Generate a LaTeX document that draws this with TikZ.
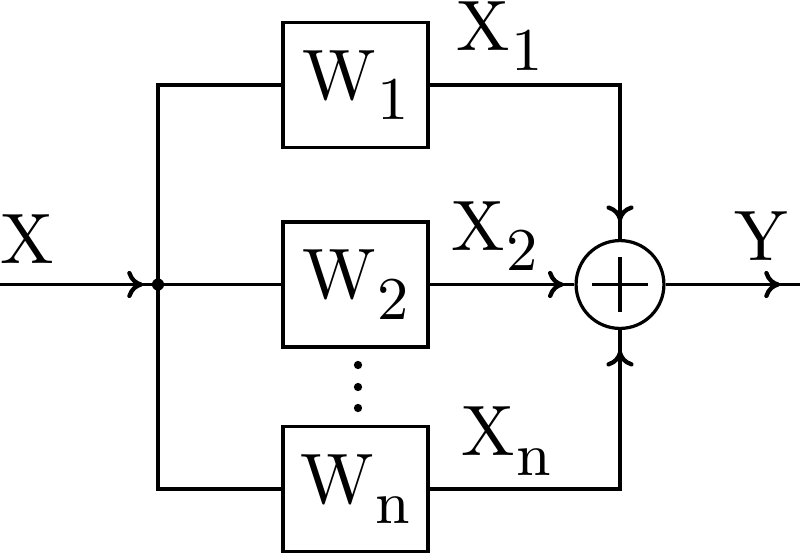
\documentclass[tikz,border=0pt]{standalone}
\usetikzlibrary{decorations.markings,arrows.meta}
\newcommand\mysub[1]{\kern0.2pt\raisebox{-2.9pt}{\fontsize{8.5}{10}\selectfont #1}}
\begin{document}
\begin{tikzpicture}[x=0.14pt,y=-0.14pt,line width=0.45pt,
  blk/.style={draw,rectangle,minimum width=20.3pt,minimum height=17.5pt,inner sep=0pt},
  sumnode/.style={draw,circle,minimum size=12.3pt,inner sep=0pt},
  lbl/.style={anchor=base west,inner sep=0pt},
  arrowat/.style={postaction={decorate},decoration={markings,mark=at position #1 with {\arrow{To[length=2.2pt,width=3.8pt,line width=0.6pt]}}}}]
\useasboundingbox (0,0) rectangle (800,554);
\node[blk] (w1) at (355.5,85) {W\mysub{1}};
\node[blk] (w2) at (355.5,284.5) {W\mysub{2}};
\node[blk] (wn) at (355.5,489) {W\mysub{n}};
\node[sumnode] (sum) at (620,284.5) {};
\coordinate (j) at (158,284.5);
\coordinate (inp) at (-5,284.5);
\coordinate (out) at (805,284.5);
\fill (j) circle (0.85pt);
% plus sign
\draw ([xshift=-3.9pt]sum.center) -- ([xshift=3.9pt]sum.center);
\draw ([yshift=-3.9pt]sum.center) -- ([yshift=3.9pt]sum.center);
% vertical dots
\fill (358,365) circle (0.58pt);
\fill (358,387) circle (0.58pt);
\fill (358,408) circle (0.58pt);
% connectors
\draw[arrowat=-2.1pt] (inp) -- (j);
\draw (j) -- (w2.west);
\draw (w1.west) -| (j) |- (wn.west);
\draw[arrowat=-2.5pt] (w1.east) -| (sum.north);
\draw[arrowat=-1.5pt] (w2.east) -- (sum.west);
\draw[arrowat=-2.9pt] (wn.east) -| (sum.south);
\draw[arrowat=-3.5pt] (sum.east) -- (out);
% labels
\node[lbl] (lx) at (-1,263) {X};
\node[lbl] (ly) at (733,260) {Y};
\node[lbl] (lx1) at (455,50) {X\mysub{1}};
\node[lbl] (lx2) at (450,250) {X\mysub{2}};
\node[lbl] (lxn) at (460,455) {X\mysub{n}};
\end{tikzpicture}
\end{document}
